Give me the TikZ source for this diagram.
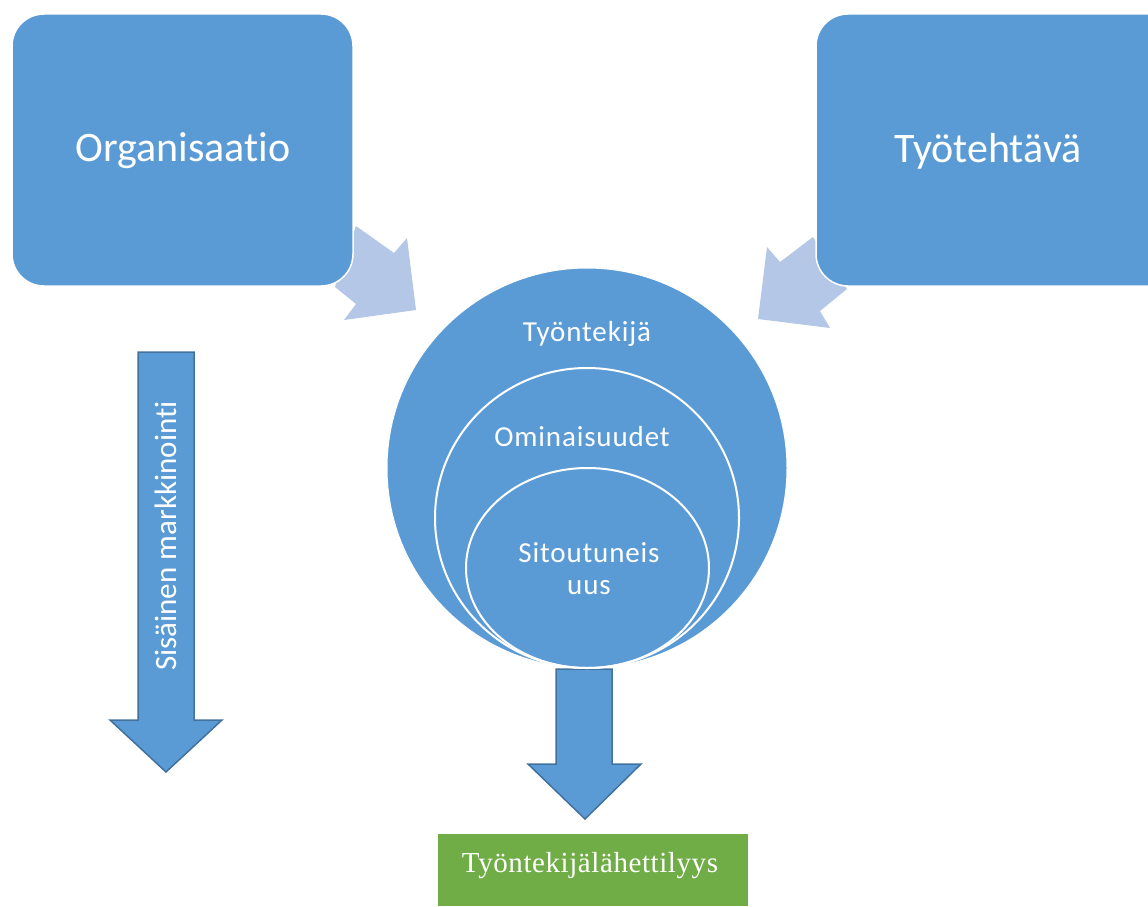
\documentclass[tikz,border=0pt]{standalone}
\usepackage{fontspec}
\setmainfont{Carlito}[Ligatures=NoCommon]
\newfontfamily\spacedfont{Carlito}[Ligatures=NoCommon, LetterSpace=3]
\newfontfamily\seriffont{Liberation Serif}[LetterSpace=2]
\usetikzlibrary{shapes.geometric}
\definecolor{mainblue}{HTML}{5B9BD5}
\definecolor{paleblue}{HTML}{B4C7E7}
\definecolor{edgeblue}{HTML}{41719C}
\definecolor{leafgreen}{HTML}{70AD47}
\tikzset{
  bigbox/.style={rectangle, rounded corners=32pt, fill=mainblue, draw=white, line width=1.5pt, inner sep=0pt},
  boxtext/.style={text=white, font=\fontsize{42}{50}\selectfont},
  circtext/.style={text=white, font=\spacedfont\fontsize{29}{36}\selectfont, align=center},
  ring/.style={ellipse, draw=white, line width=2pt, inner sep=0pt},
  palearrow/.style={fill=paleblue},
  blockarrow/.style={fill=mainblue, draw=edgeblue, line width=1.5pt, line join=miter},
}
\begin{document}
\begin{tikzpicture}[x=1pt,y=-1pt]
\useasboundingbox (0,0) rectangle (1148,907);
\clip (0,0) rectangle (1148,907);

% pale arrows pointing into the employee circle
\fill[palearrow] (356,226) -- (394,253) -- (407,238) -- (416,310) -- (344,320) -- (356,304) -- (335,287) -- cycle;
\fill[palearrow] (813,237) -- (780,262) -- (767,247) -- (758,319) -- (830,328) -- (820,311) -- (847,289) -- cycle;

% top boxes
\node[bigbox, minimum width=341pt, minimum height=272pt] (org) at (182.5,150) {};
\node[boxtext] (orgtext) at (183,151) {Organisaatio};
\node[bigbox, minimum width=364pt, minimum height=272pt] (task) at (998,150) {};
\node[boxtext] (tasktext) at (988,151) {Työtehtävä};

% internal marketing arrow
\draw[blockarrow] (138,352) -- (194,352) -- (194,720) -- (222,720) -- (166,772) -- (110,720) -- (138,720) -- cycle;
\node[text=white, font=\fontsize{31}{36}\selectfont, rotate=90] (market) at (166,536) {Sisäinen markkinointi};

% arrow from the circle down to the result
\draw[blockarrow] (556,669) -- (612,669) -- (612,764) -- (641,764) -- (585,819) -- (528,764) -- (556,764) -- cycle;

% employee circle with nested rings
\node[circle, fill=mainblue, draw=white, line width=1pt, minimum size=400pt, inner sep=0pt] (emp) at (587,468) {};
\node[ring, minimum width=304pt, minimum height=300pt] (traits) at (587,518) {};
\node[ring, minimum width=243pt, minimum height=200pt] (commit) at (587.5,568) {};
\node[circtext] (emptext) at (587,334) {Työntekijä};
\node[circtext] (traittext) at (582,437) {Ominaisuudet};
\node[circtext] (committext) at (589,569) {Sitoutuneis\\[-4pt]uus};

% result box
\node[fill=leafgreen, minimum width=310pt, minimum height=72pt, inner sep=0pt] (ambass) at (593,870) {};
\node[text=white, font=\seriffont\fontsize{29}{36}\selectfont] (ambtext) at (590,866) {Työntekijälähettilyys};
\end{tikzpicture}
\end{document}
